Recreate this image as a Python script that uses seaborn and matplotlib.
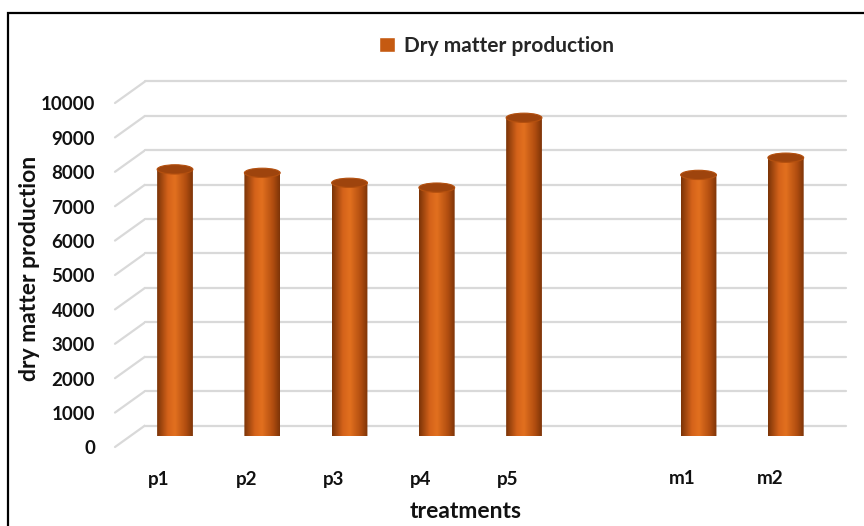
import numpy as np
import pandas as pd
import matplotlib
matplotlib.use("Agg")
import matplotlib.pyplot as plt
import seaborn as sns
from matplotlib.patches import Rectangle, Ellipse, PathPatch
from matplotlib.path import Path
from matplotlib.lines import Line2D
from matplotlib.colors import LinearSegmentedColormap
from matplotlib.transforms import ScaledTranslation

# ---- data ----
treatments = ["p1", "p2", "p3", "p4", "p5", "m1", "m2"]
dry_matter = [7750, 7650, 7360, 7220, 9250, 7590, 8090]
category_order = ["p1", "p2", "p3", "p4", "p5", "", "m1", "m2"]
y_ticks = [0, 1000, 2000, 3000, 4000, 5000, 6000, 7000, 8000, 9000, 10000]
series_name = "Dry matter production"
x_title = "treatments"
y_title = "dry matter production"

df = pd.DataFrame({"treatment": treatments, "value": dry_matter})

sns.set_style("white")
plt.rcParams["font.family"] = ["Lato", "DejaVu Sans"]
plt.rcParams["font.weight"] = "bold"

W, H = 864, 526
fig = plt.figure(figsize=(W / 100, H / 100), dpi=100)
AX_L, AX_R, AX_T, AX_B = 145, 846, 92, 436
ax = fig.add_axes([AX_L / W, (H - AX_B) / H, (AX_R - AX_L) / W, (AX_B - AX_T) / H])

bar_color = "#C55A11"
sns.barplot(data=df, x="treatment", y="value", order=category_order,
            color=bar_color, width=0.41, ax=ax, saturation=1, errorbar=None)

ax.set_ylim(0, 10000)
ax.set_xlim(-0.344, 7.69)
for s in ax.spines.values():
    s.set_visible(False)
ax.set_xticks([])
ax.set_yticks([])
ax.set_xlabel("")
ax.set_ylabel("")
ax.grid(False)

px = fig.dpi_scale_trans
grid_c = "#D9D9D9"
ytr = ax.get_yaxis_transform()
back = ytr + ScaledTranslation(0, 10.5 / 100, px)
diag_dx = 30 / (AX_R - AX_L)
inv = fig.transFigure.inverted()
for v in y_ticks:
    ax.add_line(Line2D([0, 1], [v, v], color=grid_c, lw=1.6, zorder=0,
                       transform=back, clip_on=False))
    p0 = ytr.transform((-diag_dx, v)) + np.array([0, -11.0])
    p1 = ytr.transform((0, v)) + np.array([0, 10.5])
    a = inv.transform(p0)
    b = inv.transform(p1)
    fig.add_artist(Line2D([a[0], b[0]], [a[1], b[1]], color=grid_c, lw=1.6, zorder=0))

# cylinder styling of the seaborn bars
cmap = LinearSegmentedColormap.from_list(
    "cyl", [(0.0, "#7a3307"), (0.3, "#d4621a"), (0.5, "#e2701f"),
            (0.8, "#b24e10"), (1.0, "#7d3408")])
grad = np.linspace(0, 1, 256).reshape(1, -1)
cap_h = 270
bot_h = 240
for bar in list(ax.patches):
    h = bar.get_height()
    if not np.isfinite(h) or h == 0:
        continue
    x0 = bar.get_x()
    w = bar.get_width()
    xc = x0 + w / 2
    bar.set_visible(False)
    t = np.linspace(np.pi, 2 * np.pi, 40)
    bx = xc + (w / 2) * np.cos(t)
    by = (bot_h / 2) * np.sin(t)
    verts = list(zip(bx, by)) + [(x0 + w, h), (x0, h), (bx[0], by[0])]
    codes = [Path.MOVETO] + [Path.LINETO] * (len(verts) - 2) + [Path.CLOSEPOLY]
    shape = PathPatch(Path(verts, codes), transform=ax.transData, facecolor="none",
                      edgecolor="none")
    ax.add_patch(shape)
    im = ax.imshow(grad, cmap=cmap, aspect="auto",
                   extent=(x0, x0 + w, -bot_h, h), zorder=2, interpolation="bilinear")
    im.set_clip_path(shape)
    cap = Ellipse((xc, h), w, cap_h, facecolor="#9E440D", edgecolor="#B4500F",
                  lw=0.8, zorder=3, clip_on=False)
    ax.add_patch(cap)

ax.set_xlim(-0.344, 7.69)
ax.set_ylim(0, 10000)

txt_c = "#111111"
ylab_tr = ytr + ScaledTranslation(-50 / 100, -13 / 100, px)
for v in y_ticks:
    ax.text(0, v, f"{v}", transform=ylab_tr, ha="right", va="center",
            fontsize=13.5, fontweight="bold", color=txt_c, clip_on=False)

xlab_tr = ax.get_xaxis_transform() + ScaledTranslation(-16 / 100, 0, px)
for i, c in enumerate(category_order):
    if c:
        ax.text(i, -(479 - AX_B) / (AX_B - AX_T), c, transform=xlab_tr, ha="center",
                va="center", fontsize=13.5, fontweight="bold", color=txt_c,
                clip_on=False)

fig.text(466 / W, 1 - 512 / H, x_title, ha="center", va="center",
         fontsize=16.5, fontweight="bold", color=txt_c)
fig.text(30 / W, 1 - 268 / H, y_title, ha="center", va="center", rotation=90,
         fontsize=16.5, fontweight="bold", color=txt_c)

handle = Rectangle((0, 0), 1, 1, facecolor=bar_color)
fig.legend([handle], [series_name], loc="center", bbox_to_anchor=(497 / W, 1 - 46 / H),
           frameon=False, handlelength=0.75, handleheight=0.75, handletextpad=0.45,
           prop={"size": 15, "weight": "bold"})

fig.add_artist(Rectangle((8 / W, -0.1), 1.2, 1.1 - 13 / H, transform=fig.transFigure,
                         fill=False, edgecolor="black", lw=1.6))

fig.savefig("out.png", dpi=100)
